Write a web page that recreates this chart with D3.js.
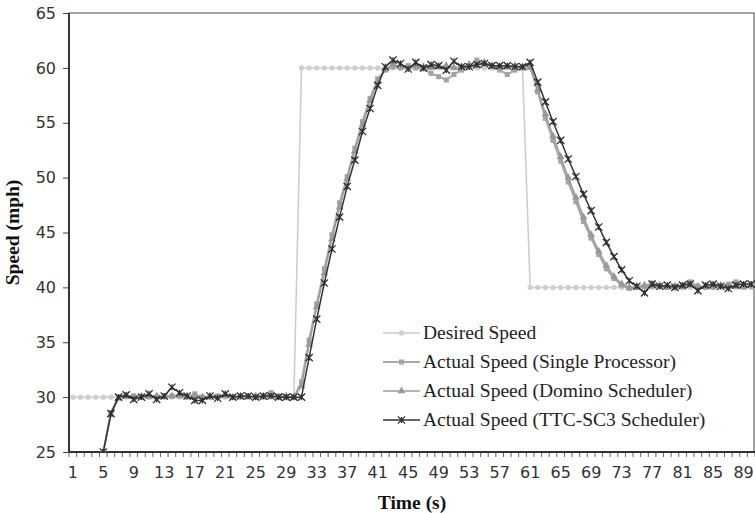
<!DOCTYPE html>
<html>
<head>
<meta charset="utf-8">
<script src="https://cdn.jsdelivr.net/npm/d3@7"></script>
<style>
    body { margin: 0; background: #fff; }
    svg { display: block; }
    .tick-label { font-family: 'DejaVu Sans', Verdana, sans-serif; font-size: 16px; fill: #333; }
    .axis-title { font-family: 'Liberation Serif', 'Times New Roman', serif; font-size: 19.5px; font-weight: bold; fill: #111; }
    .legend-text { font-family: 'Liberation Serif', 'Times New Roman', serif; font-size: 19.5px; fill: #222; }
</style>
</head>
<body>
<svg id="chart" width="755" height="513"></svg>
<script>
// time in seconds, one category per second
var times = d3.range(1, 91);

var xTickLabels = [1, 5, 9, 13, 17, 21, 25, 29, 33, 37, 41, 45, 49, 53, 57, 61, 65, 69, 73, 77, 81, 85, 89];
var yTicks = [25, 30, 35, 40, 45, 50, 55, 60, 65];

var seriesNames = [
    'Desired Speed',
    'Actual Speed (Single Processor)',
    'Actual Speed (Domino Scheduler)',
    'Actual Speed (TTC-SC3 Scheduler)'
];

var desiredSpeed = [
    30, 30, 30, 30, 30, 30, 30, 30, 30, 30, 30, 30, 30, 30, 30, 30, 30, 30, 30, 30,
    30, 30, 30, 30, 30, 30, 30, 30, 30, 30,
    60, 60, 60, 60, 60, 60, 60, 60, 60, 60, 60, 60, 60, 60, 60, 60, 60, 60, 60, 60,
    60, 60, 60, 60, 60, 60, 60, 60, 60, 60,
    40, 40, 40, 40, 40, 40, 40, 40, 40, 40, 40, 40, 40, 40, 40, 40, 40, 40, 40, 40,
    40, 40, 40, 40, 40, 40, 40, 40, 40, 40
];

var singleSpeed = [
    null, null, null, null, 25, 28.6, 30.0, 30.1, 30.1, 30.0,
    30.1, 30.0, 30.1, 30.1, 30.2, 30.0, 30.3, 30.0, 30.0, 30.1,
    30.1, 30.0, 30.0, 30.1, 30.0, 30.0, 30.4, 30.1, 30.0, 30.0,
    31.4, 35.2, 38.5, 41.7, 44.8, 47.7, 50.1, 52.7, 55.1, 57.2,
    59.0, 59.8, 60.1, 60.0, 60.2, 60.0, 59.9, 59.5, 59.2, 58.9,
    59.4, 59.8, 60.2, 60.7, 60.4, 60.1, 59.8, 59.4, 59.8, 60.0,
    60.2, 57.8, 55.4, 53.4, 51.5, 49.6, 47.8, 46.0, 44.5, 43.0,
    41.7, 40.8, 40.2, 39.9, 40.0, 40.1, 40.4, 40.1, 40.0, 40.1,
    40.2, 40.5, 40.1, 40.0, 40.2, 40.1, 40.3, 40.5, 40.2, 40.1
];

var dominoSpeed = [
    null, null, null, null, 25, 28.4, 29.9, 30.1, 30.0, 30.1,
    30.0, 30.1, 30.0, 30.1, 30.1, 30.1, 30.1, 30.0, 30.1, 30.0,
    30.2, 30.0, 30.1, 30.0, 30.1, 30.1, 30.2, 30.0, 30.1, 30.0,
    31.0, 34.8, 38.2, 41.3, 44.4, 47.3, 49.9, 52.4, 54.8, 57.0,
    58.8, 59.9, 60.3, 60.1, 60.0, 60.2, 60.1, 60.0, 60.1, 60.2,
    60.0, 60.1, 60.3, 60.2, 60.5, 60.2, 60.0, 60.1, 60.2, 60.1,
    60.0, 58.0, 55.8, 53.8, 51.9, 50.0, 48.2, 46.4, 44.8, 43.3,
    42.0, 41.0, 40.3, 40.0, 40.1, 40.2, 40.1, 40.2, 40.0, 40.1,
    40.0, 40.2, 40.1, 40.1, 40.0, 40.2, 40.1, 40.1, 40.0, 40.2
];

var ttcSpeed = [
    null, null, null, null, 25, 28.5, 30.0, 30.2, 29.8, 30.0,
    30.3, 29.8, 30.1, 30.9, 30.4, 30.1, 29.7, 29.7, 30.1, 29.9,
    30.3, 30.0, 30.1, 30.1, 30.0, 30.1, 30.1, 30.0, 30.0, 30.0,
    30.0, 33.6, 37.1, 40.4, 43.5, 46.4, 49.2, 51.6, 54.2, 56.3,
    58.4, 60.1, 60.7, 60.4, 59.9, 60.5, 60.0, 60.3, 60.2, 59.8,
    60.6, 60.1, 60.1, 60.3, 60.4, 60.2, 60.2, 60.2, 60.1, 60.1,
    60.5, 58.7, 56.9, 55.1, 53.4, 51.7, 50.1, 48.5, 47.0, 45.5,
    44.1, 42.8, 41.6, 40.6, 40.1, 39.5, 40.3, 40.1, 40.2, 40.0,
    40.2, 40.3, 39.7, 40.2, 40.3, 40.1, 39.9, 40.2, 40.3, 40.3
];

var plot = { left: 69, top: 13, right: 755, bottom: 452 };

var svg = d3.select('#chart');

var x = d3.scaleBand()
    .domain(times)
    .range([plot.left, plot.right]);

var y = d3.scaleLinear()
    .domain([25, 65])
    .range([plot.bottom, plot.top]);

function cx(t) { return x(t) + x.bandwidth() / 2; }

var series = [
    { name: seriesNames[0], values: desiredSpeed, color: '#cbcbcb', width: 1.5, marker: 'circle', markerColor: '#cfcfcf' },
    { name: seriesNames[1], values: singleSpeed, color: '#a9a9a9', width: 2, marker: 'square', markerColor: '#a4a4a4' },
    { name: seriesNames[2], values: dominoSpeed, color: '#9d9d9d', width: 1.6, marker: 'triangle', markerColor: '#989898' },
    { name: seriesNames[3], values: ttcSpeed, color: '#333333', width: 1.5, marker: 'star', markerColor: '#2e2e2e' }
];

drawAxes();
drawSeries();
drawLegend();

function drawAxes() {

    var yAxis = d3.axisLeft(y)
        .tickValues(yTicks)
        .tickSize(6)
        .tickPadding(7);

    var yG = svg.append('g')
        .attr('transform', 'translate(' + plot.left + ',0)')
        .call(yAxis);
    yG.select('.domain').remove();
    yG.selectAll('line').attr('stroke', '#444');
    yG.selectAll('text').attr('class', 'tick-label').attr('fill', null);

    // boundary tick marks between categories
    var bounds = times.map(function(t) { return x(t); }).concat([plot.right]);
    svg.append('g').selectAll('line')
        .data(bounds)
        .enter()
        .append('line')
        .attr('x1', function(d) { return d; })
        .attr('x2', function(d) { return d; })
        .attr('y1', plot.bottom)
        .attr('y2', plot.bottom + 5)
        .attr('stroke', '#666')
        .attr('stroke-width', 1);

    var xAxis = d3.axisBottom(x)
        .tickValues(xTickLabels)
        .tickSize(0)
        .tickPadding(15);

    var xG = svg.append('g')
        .attr('transform', 'translate(0,' + plot.bottom + ')')
        .call(xAxis);
    xG.select('.domain').remove();
    xG.selectAll('text').attr('class', 'tick-label').attr('fill', null);

    // plot frame
    svg.append('rect')
        .attr('x', plot.left)
        .attr('y', plot.top)
        .attr('width', plot.right - plot.left - 1)
        .attr('height', plot.bottom - plot.top)
        .attr('fill', 'none')
        .attr('stroke', '#4a4a4a')
        .attr('stroke-width', 1);

    svg.append('line')
        .attr('x1', plot.left).attr('x2', plot.left)
        .attr('y1', plot.top).attr('y2', plot.bottom)
        .attr('stroke', '#333').attr('stroke-width', 2);
    svg.append('line')
        .attr('x1', plot.left).attr('x2', plot.right)
        .attr('y1', plot.bottom).attr('y2', plot.bottom)
        .attr('stroke', '#333').attr('stroke-width', 2);

    svg.append('text')
        .attr('class', 'axis-title')
        .attr('x', (plot.left + plot.right) / 2)
        .attr('y', 509)
        .attr('text-anchor', 'middle')
        .text('Time (s)');

    svg.append('text')
        .attr('class', 'axis-title')
        .attr('transform', 'translate(19,' + (plot.top + plot.bottom) / 2 + ') rotate(-90)')
        .attr('text-anchor', 'middle')
        .text('Speed (mph)');
}

function markerPath(type) {
    if (type == 'circle') return d3.symbol(d3.symbolCircle, 22)();
    if (type == 'square') return d3.symbol(d3.symbolSquare, 26)();
    if (type == 'triangle') return d3.symbol(d3.symbolTriangle, 26)();
    return d3.symbol(d3.symbolX, 36)();
}

function drawMarker(g, s, px, py) {
    var m = g.append('path')
        .attr('d', markerPath(s.marker))
        .attr('transform', 'translate(' + px + ',' + py + ')');
    if (s.marker == 'star') {
        m.attr('fill', 'none').attr('stroke', s.markerColor).attr('stroke-width', 1.3);
        g.append('line')
            .attr('x1', px).attr('x2', px)
            .attr('y1', py - 3).attr('y2', py + 3)
            .attr('stroke', s.markerColor).attr('stroke-width', 1.3);
    } else {
        m.attr('fill', s.markerColor);
    }
}

function drawSeries() {

    var clip = svg.append('clipPath').attr('id', 'plot-clip')
        .append('rect')
        .attr('x', plot.left)
        .attr('y', plot.top - 6)
        .attr('width', plot.right - plot.left)
        .attr('height', plot.bottom - plot.top + 6);

    var seriesG = svg.append('g').attr('clip-path', 'url(#plot-clip)');

    var line = d3.line()
        .defined(function(d) { return d.v != null; })
        .x(function(d) { return cx(d.t); })
        .y(function(d) { return y(d.v); });

    series.forEach(function(s) {
        var pts = times.map(function(t, i) { return { t: t, v: s.values[i] }; });

        seriesG.append('path')
            .datum(pts)
            .attr('d', line)
            .attr('fill', 'none')
            .attr('stroke', s.color)
            .attr('stroke-width', s.width)
            .attr('stroke-linejoin', 'round');

        var mg = seriesG.append('g');
        pts.filter(function(d) { return d.v != null; }).forEach(function(d) {
            drawMarker(mg, s, cx(d.t), y(d.v));
        });
    });
}

function drawLegend() {

    var legendG = svg.append('g');
    var baseY = 339;
    var step = 29;

    series.forEach(function(s, i) {
        var ly = baseY + i * step - 6;
        legendG.append('line')
            .attr('x1', 383).attr('x2', 420)
            .attr('y1', ly).attr('y2', ly)
            .attr('stroke', s.color)
            .attr('stroke-width', s.width);
        drawMarker(legendG, s, 401.5, ly);
        legendG.append('text')
            .attr('class', 'legend-text')
            .attr('x', 423)
            .attr('y', baseY + i * step)
            .text(s.name);
    });
}
</script>
</body>
</html>
